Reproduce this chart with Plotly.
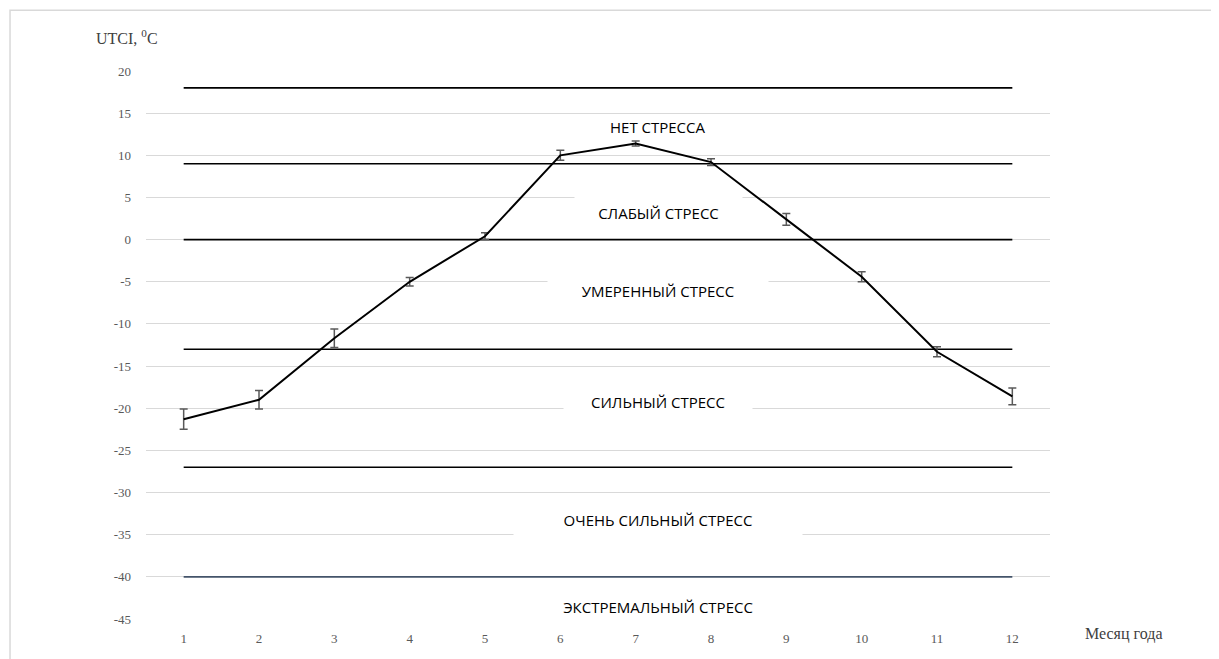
import plotly.graph_objects as go

months = list(range(1, 13))
utci = [-21.3, -19.0, -11.7, -5.0, 0.4, 10.0, 11.4, 9.2, 2.4, -4.4, -13.3, -18.6]
err = [1.2, 1.1, 1.1, 0.5, 0.4, 0.6, 0.3, 0.4, 0.7, 0.6, 0.6, 1.0]

thresholds = [18, 9, 0, -13, -27]
extreme_threshold = -40

zone_labels = ["НЕТ СТРЕССА", "СЛАБЫЙ СТРЕСС", "УМЕРЕННЫЙ СТРЕСС", "СИЛЬНЫЙ СТРЕСС",
               "ОЧЕНЬ СИЛЬНЫЙ СТРЕСС", "ЭКСТРЕМАЛЬНЫЙ СТРЕСС"]
zone_label_y = [13.4, 3.2, -6.1, -19.3, -33.3, -43.6]
zone_label_x = 7.3
zone_box_w = [None, 165, 218, 186, 286, 300]

y_ticks = [20, 15, 10, 5, 0, -5, -10, -15, -20, -25, -30, -35, -40, -45]
y_tick_text = ["20", "15", "10", "5", "0", "-5", "-10", "-15", "-20", "-25",
               "-30", "-35", "-40", "-45"]

fig = go.Figure()

for t in thresholds:
    fig.add_trace(go.Scatter(x=[months[0], months[-1]], y=[t, t], mode="lines",
                             line=dict(color="black", width=1.6), hoverinfo="skip",
                             showlegend=False))
fig.add_trace(go.Scatter(x=[months[0], months[-1]], y=[extreme_threshold, extreme_threshold],
                         mode="lines", line=dict(color="#44546A", width=1.6),
                         hoverinfo="skip", showlegend=False))

fig.add_trace(go.Scatter(x=months, y=utci, mode="lines",
                         line=dict(color="black", width=2),
                         error_y=dict(type="data", array=err, visible=True,
                                      color="#595959", thickness=1.5, width=4),
                         showlegend=False))

for lab, yy, w in zip(zone_labels, zone_label_y, zone_box_w):
    kw = dict(x=zone_label_x, y=yy, xref="x", yref="y", text=lab, showarrow=False,
              font=dict(family="Open Sans", size=15, color="black"))
    if w is not None:
        kw.update(bgcolor="white", width=w, height=34)
    fig.add_annotation(**kw)

fig.add_annotation(x=-0.057, y=1.062, xref="paper", yref="paper", xanchor="left",
                   yanchor="middle",
                   text="UTCI, <sup>0</sup>C", showarrow=False,
                   font=dict(family="Liberation Serif", size=16, color="#404040"))
fig.add_annotation(x=1.0365, y=-0.027, xref="paper", yref="paper", xanchor="left",
                   yanchor="middle",
                   text="Месяц года", showarrow=False,
                   font=dict(family="Liberation Serif", size=16, color="#404040"))

fig.add_shape(type="rect", xref="paper", yref="paper",
              x0=-0.1504, x1=1.2, y0=-0.2, y1=1.111,
              line=dict(color="#d9d9d9", width=1.5), layer="below")

fig.update_xaxes(range=[0.5, 12.5], tickmode="array", tickvals=months,
                 ticktext=[str(m) for m in months], showgrid=False, zeroline=False,
                 showline=False, ticks="", ticklabelstandoff=10,
                 tickfont=dict(family="Liberation Serif", size=13, color="#595959"))
fig.update_yaxes(range=[-45, 20], tickmode="array", tickvals=y_ticks,
                 ticktext=y_tick_text,
                 showgrid=True, gridcolor="#d9d9d9", gridwidth=1, zeroline=False,
                 showline=False, ticks="", ticklabelstandoff=14,
                 tickfont=dict(family="Liberation Serif", size=13, color="#595959"))

fig.update_layout(width=1219, height=659, autosize=False,
                  margin=dict(l=138, r=177, t=63, b=48),
                  plot_bgcolor="white", paper_bgcolor="white")

fig.write_html("out.html")
